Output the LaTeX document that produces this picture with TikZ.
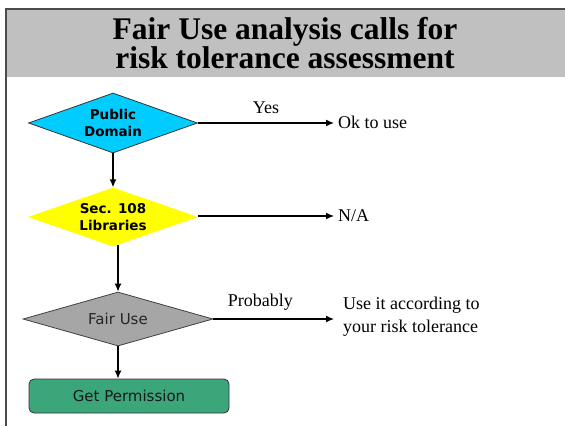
\documentclass[tikz,border=0pt]{standalone}
\usepackage{fontspec}
\setmainfont{Liberation Serif}
\newfontfamily\boxfont{DejaVu Sans}
\usetikzlibrary{shapes.geometric,arrows.meta}
\definecolor{bandgray}{HTML}{C0C0C0}
\definecolor{pdcyan}{HTML}{00CCFF}
\definecolor{libyellow}{HTML}{FFFF00}
\definecolor{fairgray}{HTML}{A6A6A6}
\definecolor{permgreen}{HTML}{3BA67A}

\begin{document}
\begin{tikzpicture}[x=1pt,y=-1pt,>={Latex[length=8pt,width=7pt]},
    decision/.style={diamond,aspect=2.8,inner sep=0pt,align=center},
    outcome/.style={anchor=west,inner xsep=4pt,align=left,
      font=\fontsize{18}{23}\selectfont},
    arr/.style={->,line width=1.3pt},
    lbl/.style={above=5pt,font=\fontsize{18}{23}\selectfont}]
  \useasboundingbox (0,0) rectangle (565,426);
  % title band and frame
  \fill [bandgray] (6,9) rectangle (565,77);
  \draw [line width=1.5pt,black!70] (6,426) -- (6,9) -- (565,9);
  \node (title) at (285,43) [align=center,
    font=\fontsize{31.5}{29}\selectfont\bfseries]
    {Fair Use analysis calls for\\risk tolerance assessment};
  % decisions
  \node (pd) at (113,123) [decision,fill=pdcyan,draw=black!80,line width=0.8pt,
    minimum width=169pt,minimum height=60pt,
    font=\boxfont\fontsize{13.5}{17}\selectfont\bfseries] {Public\\Domain};
  \node (lib) at (113,217) [decision,fill=libyellow,
    minimum width=170pt,minimum height=59pt,
    font=\boxfont\fontsize{13.5}{16.5}\selectfont\bfseries] {Sec. 108\\Libraries};
  \node (fair) at (118,319) [decision,aspect=3.5,fill=fairgray,draw=black!75,
    line width=0.8pt,minimum width=190pt,minimum height=54pt,text=black!85,
    font=\boxfont\fontsize{15}{18}\selectfont] {Fair Use};
  \node (perm) at (129,396) [rectangle,rounded corners=5pt,fill=permgreen,
    draw=black!80,line width=0.8pt,minimum width=200pt,minimum height=34pt,
    text=black!90,font=\boxfont\fontsize{15}{18}\selectfont] {Get Permission};
  % outcomes
  \node (ok) at (334,122) [outcome] {Ok to use};
  \node (na) at (334,216) [outcome] {N/A};
  \node (risk) at (334,317) [outcome,inner xsep=9pt]
    {Use it according to\\your risk tolerance};
  % connectors
  \draw [arr] (pd.south) -- (lib.north);
  \draw [arr] ([yshift=2pt]lib.south -| fair.north) -- (fair.north);
  \draw [arr] (fair.south) -- (fair.south |- perm.north);
  \draw [arr] (pd.east) -- (pd.east -| ok.west) node [lbl,midway] {Yes};
  \draw [arr] (lib.east |- na.west) -- (na.west);
  \draw [arr] (fair.east) -- (fair.east -| risk.west)
    node [lbl,pos=0.39] {Probably};
\end{tikzpicture}
\end{document}
